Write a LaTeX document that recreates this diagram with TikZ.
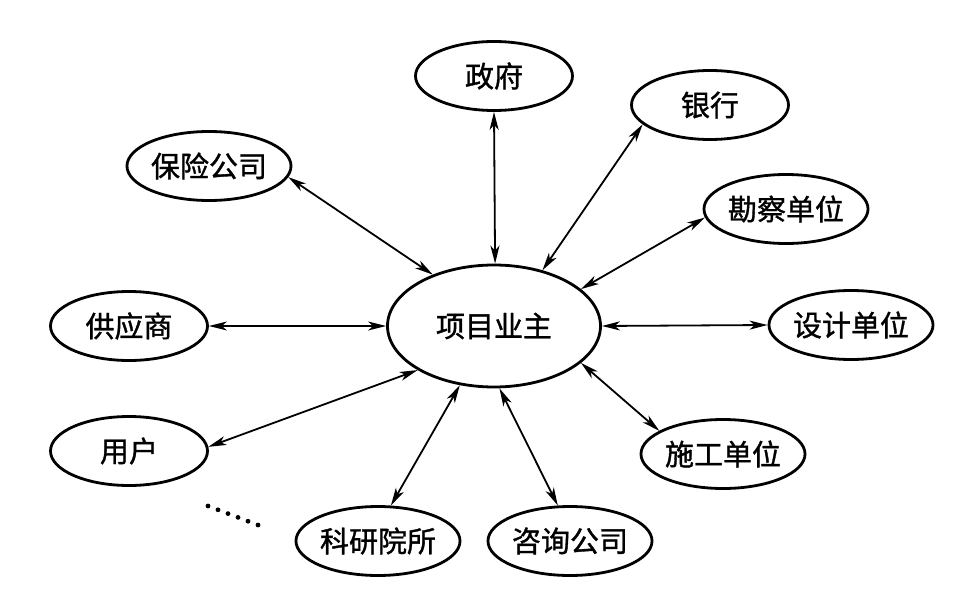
\documentclass[tikz,border=0pt]{standalone}
\usepackage{fontspec}
\newfontfamily\cjk{Noto Sans CJK SC}[FakeBold=1.2]
\usetikzlibrary{shapes.geometric,arrows.meta}
\begin{document}
\begin{tikzpicture}[x=1pt,y=-1pt,
  sat/.style={ellipse,draw,line width=2.8pt,minimum width=157pt,minimum height=69pt,inner sep=0pt,font=\cjk\fontsize{29}{29}\selectfont},
  hub/.style={sat,minimum width=213pt,minimum height=122pt},
  link/.style={{Stealth[length=18pt,width=9pt,inset=5pt]}-{Stealth[length=18pt,width=9pt,inset=5pt]},line width=1.8pt},
  dotmark/.style={fill=black,draw=none,circle,inner sep=0pt,minimum size=4.8pt}]
\useasboundingbox (0,0) rectangle (967,607);
\node[hub] (hub) at (494,326) {项目业主};
\node[sat] (zf) at (494,76) {政府};
\node[sat] (yh) at (710,105) {银行};
\node[sat] (bx) at (209,166) {保险公司};
\node[sat] (kc) at (786,209) {勘察单位};
\node[sat] (gy) at (129,326) {供应商};
\node[sat] (sj) at (851,325) {设计单位};
\node[sat] (yhu) at (129,451) {用户};
\node[sat] (sg) at (723,454) {施工单位};
\node[sat] (ky) at (378,541) {科研院所};
\node[sat] (zx) at (570,541) {咨询公司};
\draw[link] (hub.89) -- (zf.270);
\draw[link] (hub.49) -- (yh.196);
\draw[link] (hub.140) -- (bx.-8);
\draw[link] (hub.23) -- (kc.186);
\draw[link] (hub.180) -- (gy.0);
\draw[link] (hub.0) -- (sj.180);
\draw[link] (hub.210) -- (yhu.3);
\draw[link] (hub.-23) -- (sg.160);
\draw[link] (hub.240) -- (ky.70);
\draw[link] (hub.275) -- (zx.109);
\foreach \i in {0,...,5} {
  \node[dotmark] (d\i) at ({208+10*\i},{506+3.8*\i}) {};
}
\end{tikzpicture}
\end{document}
